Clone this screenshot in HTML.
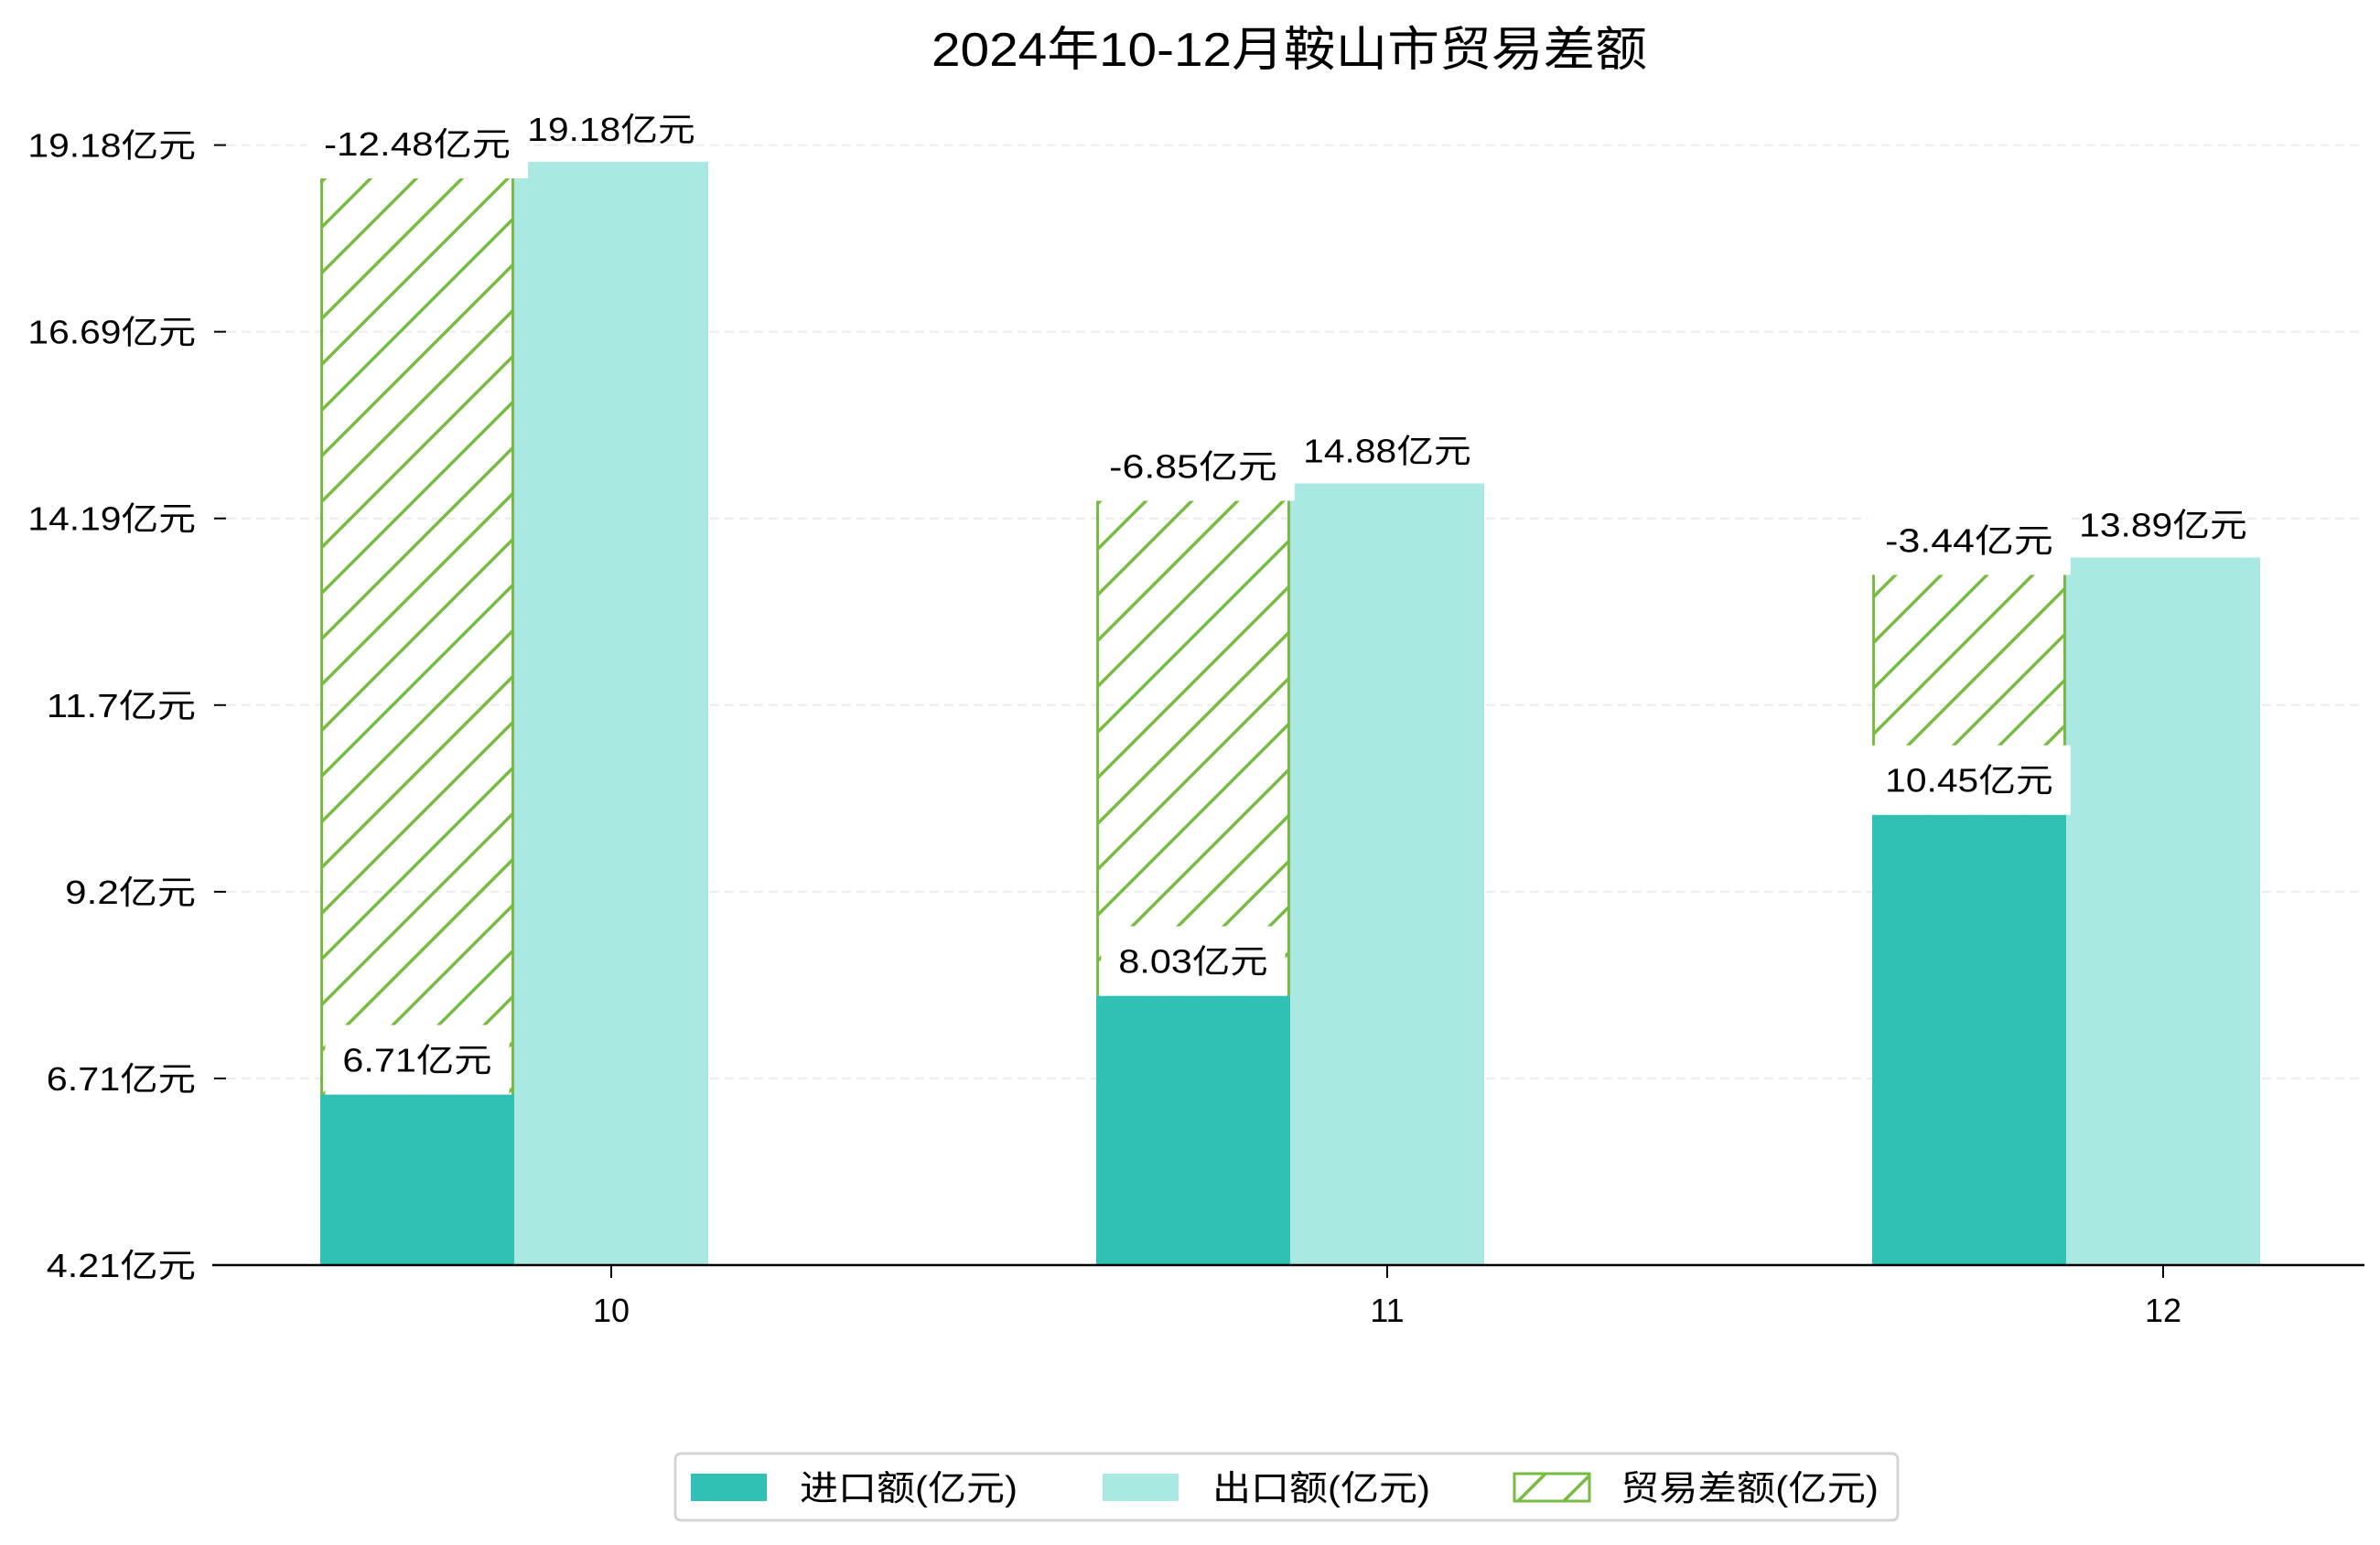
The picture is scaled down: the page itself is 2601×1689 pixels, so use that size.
<!DOCTYPE html>
<html><head><meta charset="utf-8">
<style>
html,body{margin:0;padding:0;background:#fff;}
svg{display:block;}
text{font-family:"Liberation Sans","Noto Sans CJK SC",sans-serif;fill:#000;}
</style></head>
<body>
<svg id="chart" width="2601" height="1689" viewBox="0 0 2601 1689" xmlns="http://www.w3.org/2000/svg">
<defs>
<pattern id="hatch" patternUnits="userSpaceOnUse" width="50" height="50">
<line x1="0" y1="50" x2="50" y2="0" stroke="#77bb41" stroke-width="3.5"/>
<line x1="-10" y1="10" x2="10" y2="-10" stroke="#77bb41" stroke-width="3.5"/>
<line x1="40" y1="60" x2="60" y2="40" stroke="#77bb41" stroke-width="3.5"/>
</pattern>
</defs>
<text x="1409" y="72" font-size="52" text-anchor="middle" textLength="782" lengthAdjust="spacingAndGlyphs">2024年10-12月鞍山市贸易差额</text>
<g id="grid"></g>
<g id="bars"></g>
<g id="labels"></g>
<g id="axes"></g>
<g>
<rect x="738" y="1589" width="1336" height="73" rx="6" fill="#fff" stroke="#d4d4d4" stroke-width="3"/>
<rect x="755" y="1611" width="83" height="30" fill="#30c0b4"/>
<text x="874" y="1640" font-size="38" textLength="238" lengthAdjust="spacingAndGlyphs">进口额(亿元)</text>
<rect x="1205" y="1611" width="83" height="30" fill="#aae8e2"/>
<text x="1325" y="1640" font-size="38" textLength="238" lengthAdjust="spacingAndGlyphs">出口额(亿元)</text>
<rect x="1655" y="1611" width="82" height="30" fill="url(#hatch)" stroke="#77bb41" stroke-width="3"/>
<text x="1771" y="1640" font-size="38" textLength="282" lengthAdjust="spacingAndGlyphs">贸易差额(亿元)</text>
</g>
</svg>
<script>
const categories = ["10", "11", "12"];
const importValues = [6.71, 8.03, 10.45];
const exportValues = [19.18, 14.88, 13.89];
const balanceValues = [-12.48, -6.85, -3.44];
const tickLabels = ["4.21亿元", "6.71亿元", "9.2亿元", "11.7亿元", "14.19亿元", "16.69亿元", "19.18亿元"];

const NS = "http://www.w3.org/2000/svg";
const baseY = 1383, pxPerUnit = 81.77, yBase = 4.43;
function yScale(v){ return baseY - (v - yBase) * pxPerUnit; }
const xStart = 668, xStep = 848;
function xScale(i){ return xStart + i * xStep; }
const barW = 212;
const tickStep = (baseY - 158.6) / (tickLabels.length - 1);
function tickY(i){ return baseY - i * tickStep; }
function textW(s, k){ let w=0; for (const c of s){ w += (c.charCodeAt(0) > 255) ? 1 : 0.5; } return w * k; }
function mk(tag, attrs, parent){ const e=document.createElementNS(NS,tag); for(const k in attrs) e.setAttribute(k, attrs[k]); parent.appendChild(e); return e; }

const grid = document.getElementById('grid');
const axes = document.getElementById('axes');
const bars = document.getElementById('bars');
const labels = document.getElementById('labels');

tickLabels.forEach((t,i)=>{
  const y = tickY(i);
  if (i>0){
    const g = mk('line',{x1:248,x2:2584,y1:y,y2:y,stroke:'#ececec','stroke-width':2,'stroke-dasharray':'10,6'},grid);
    
    
  }
  const tk = mk('line',{x1:234,x2:247,y1:y,y2:y,stroke:'#000','stroke-width':2},axes);
  
  
  const tx = mk('text',{x:214,y:y+13,'font-size':36,'text-anchor':'end',textLength:textW(t,40.8),lengthAdjust:'spacingAndGlyphs'},axes);
  tx.textContent = t;
  
  
});
const xl = mk('line',{x1:232,x2:2584,y1:baseY,y2:baseY,stroke:'#000','stroke-width':2.5},axes);



categories.forEach((c,i)=>{
  const cx = xScale(i);
  const iL = cx - 1.5*barW, eL = cx - 0.5*barW;
  const iTop = yScale(importValues[i]), eTop = yScale(exportValues[i]);
  const ib = mk('rect',{x:iL,y:iTop,width:barW,height:baseY-iTop,fill:'#30c0b4'},bars);
  
  
  const eb = mk('rect',{x:eL,y:eTop,width:barW,height:baseY-eTop,fill:'#aae8e2'},bars);
  
  
  const hTop = yScale(importValues[i] - balanceValues[i]);
  const hb = mk('rect',{x:iL,y:hTop,width:barW,height:iTop-hTop,fill:'url(#hatch)'},bars);
  
  
  const hl = mk('line',{x1:iL+1.5,x2:iL+1.5,y1:hTop,y2:iTop,stroke:'#77bb41','stroke-width':3},bars);
  
  
  const hr = mk('line',{x1:iL+barW-1.5,x2:iL+barW-1.5,y1:hTop,y2:iTop,stroke:'#77bb41','stroke-width':3},bars);
  
  

  const icx = cx - barW;
  const it = importValues[i].toFixed(2)+'亿元';
  const iw = textW(it,40.8);
  const ibx = mk('rect',{x:icx-iw/2-19,y:iTop-76,width:iw+38,height:76,fill:'#fff'},labels);
  
  
  const itx = mk('text',{x:icx,y:iTop-25,'font-size':36,'text-anchor':'middle',textLength:iw,lengthAdjust:'spacingAndGlyphs'},labels);
  itx.textContent = it;
  
  
  const bt = balanceValues[i].toFixed(2)+'亿元';
  const bw = textW(bt,40.8);
  const bbx = mk('rect',{x:icx-bw/2-19,y:hTop+19-76,width:bw+38,height:76,fill:'#fff'},labels);
  
  
  const btx = mk('text',{x:icx,y:hTop+19-25,'font-size':36,'text-anchor':'middle',textLength:bw,lengthAdjust:'spacingAndGlyphs'},labels);
  btx.textContent = bt;
  
  
  const et = exportValues[i].toFixed(2)+'亿元';
  const ew = textW(et,40.8);
  const etx = mk('text',{x:cx,y:eTop-23,'font-size':36,'text-anchor':'middle',textLength:ew,lengthAdjust:'spacingAndGlyphs'},labels);
  etx.textContent = et;
  
  
  const xt = mk('line',{x1:cx,x2:cx,y1:baseY,y2:baseY+14,stroke:'#000','stroke-width':2},axes);
  
  
  const xtl = mk('text',{x:cx,y:baseY+62,'font-size':36,'text-anchor':'middle'},axes);
  xtl.textContent = c;
  
  
});
</script>
</body></html>
